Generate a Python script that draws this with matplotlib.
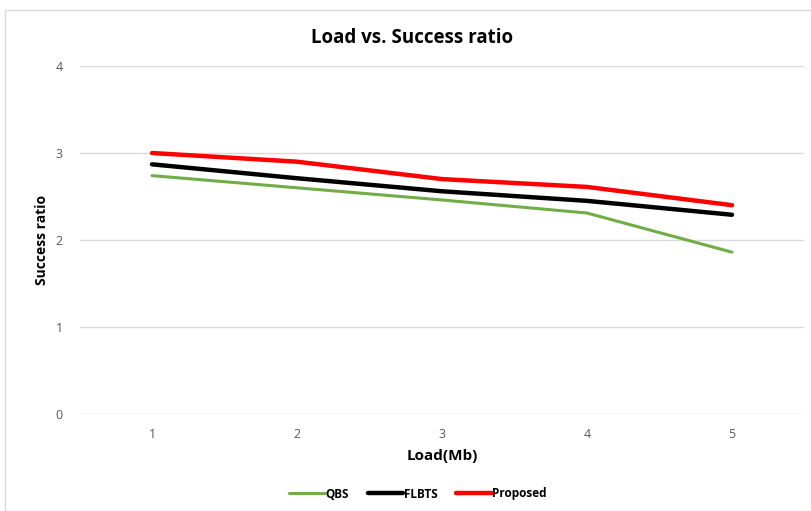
import matplotlib.pyplot as plt
from matplotlib.patches import Rectangle

load = [1, 2, 3, 4, 5]
qbs = [2.74, 2.60, 2.46, 2.31, 1.86]
flbts = [2.87, 2.71, 2.56, 2.45, 2.29]
proposed = [3.00, 2.90, 2.70, 2.61, 2.40]


def run():
    plt.rcParams['font.family'] = ['Open Sans', 'DejaVu Sans']
    fig = plt.figure(figsize=(8.12, 5.11), dpi=100)
    ax = fig.add_axes([79.5 / 812, 1 - 414 / 511, 725 / 812, 348 / 511])

    # outer chart frame
    fig.patches.append(Rectangle((5 / 812, 0), 1, 1 - 10 / 511, transform=fig.transFigure,
                                 fill=False, edgecolor='#d9d9d9', linewidth=1))

    ax.plot(load, qbs, color='#70ad47', linewidth=2.2, label='QBS', solid_capstyle='round')
    ax.plot(load, flbts, color='black', linewidth=3.2, label='FLBTS', solid_capstyle='round')
    ax.plot(load, proposed, color='#ff0000', linewidth=3.2, label='Proposed', solid_capstyle='round')

    ax.set_xlim(0.5, 5.5)
    ax.set_ylim(0, 4)
    ax.set_xticks(load)
    ax.set_yticks([0, 1, 2, 3, 4])
    ax.grid(axis='y', color='#d9d9d9', linewidth=1)
    ax.set_axisbelow(True)
    for s in ax.spines.values():
        s.set_visible(False)
    ax.tick_params(length=0, colors='#595959', labelsize=9, pad=10)
    ax.tick_params(axis='y', pad=12)

    fig.text(0.5 + 6 / 812, 1 - 38 / 511, 'Load vs. Success ratio', ha='center', va='center',
             fontsize=13.5, fontweight='bold')
    ax.set_xlabel('Load(Mb)', fontsize=11, fontweight='bold', labelpad=6)
    fig.text(42 / 812, 1 - 240 / 511, 'Success ratio', rotation=90, ha='center', va='center',
             fontsize=10, fontweight='bold')

    fig.legend(loc='center', bbox_to_anchor=(418 / 812, 1 - 494 / 511), ncol=3, frameon=False,
               handlelength=3.0, columnspacing=1.6, handletextpad=0.05,
               prop={'weight': 'bold', 'size': 8.5})

    fig.savefig('out.png', dpi=100)


if __name__ == "__main__":
    run()
